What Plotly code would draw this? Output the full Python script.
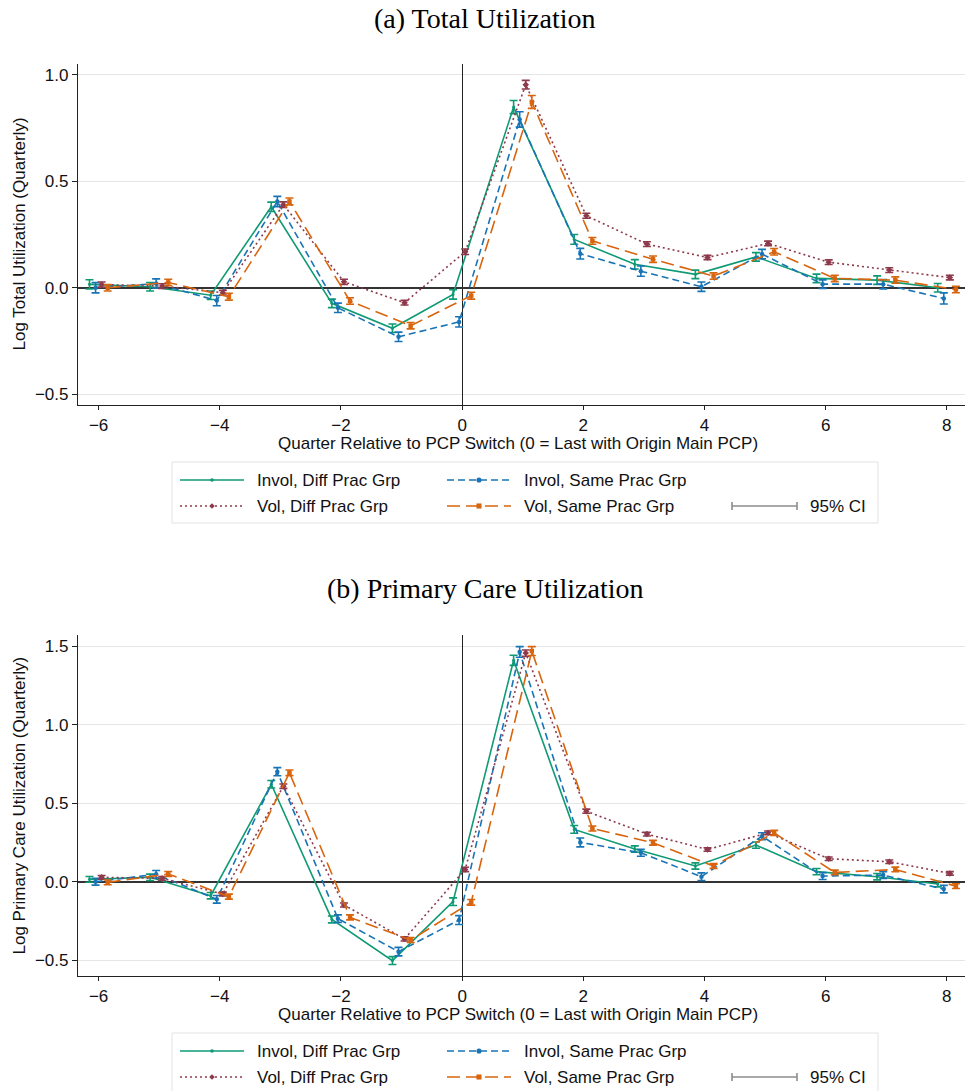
import plotly.graph_objects as go

W, H = 968, 1091

quarters = [-6, -5, -4, -3, -2, -1, 0, 1, 2, 3, 4, 5, 6, 7, 8]
series_names = ["Invol, Diff Prac Grp", "Invol, Same Prac Grp", "Vol, Diff Prac Grp", "Vol, Same Prac Grp"]

# Panel (a) Total utilization: point estimates
a_invol_diff = [0.016, 0.005, -0.035, 0.38, -0.073, -0.19, -0.031, 0.848, 0.227, 0.11, 0.063, 0.145, 0.044, 0.036, 0.0]
a_invol_same = [0.0, 0.02, -0.06, 0.405, -0.094, -0.23, -0.16, 0.79, 0.16, 0.078, 0.005, 0.158, 0.017, 0.017, -0.05]
a_vol_diff = [0.015, 0.008, -0.023, 0.39, 0.028, -0.07, 0.169, 0.953, 0.338, 0.205, 0.142, 0.208, 0.12, 0.083, 0.048]
a_vol_same = [0.0, 0.025, -0.042, 0.405, -0.062, -0.178, -0.037, 0.872, 0.22, 0.134, 0.055, 0.169, 0.044, 0.036, -0.008]
# Panel (a) 95% CI half-widths
a_ci_invol_diff = [0.022, 0.02, 0.02, 0.022, 0.02, 0.02, 0.022, 0.031, 0.023, 0.022, 0.02, 0.02, 0.02, 0.02, 0.02]
a_ci_invol_same = [0.024, 0.022, 0.024, 0.024, 0.022, 0.022, 0.024, 0.036, 0.025, 0.024, 0.022, 0.022, 0.02, 0.022, 0.026]
a_ci_vol_diff = [0.012, 0.011, 0.011, 0.013, 0.012, 0.011, 0.013, 0.02, 0.012, 0.011, 0.01, 0.011, 0.011, 0.011, 0.011]
a_ci_vol_same = [0.015, 0.015, 0.016, 0.016, 0.015, 0.015, 0.016, 0.03, 0.016, 0.015, 0.015, 0.015, 0.015, 0.015, 0.015]

# Panel (b) Primary care utilization: point estimates
b_invol_diff = [0.015, 0.028, -0.089, 0.62, -0.24, -0.502, -0.127, 1.409, 0.333, 0.208, 0.1, 0.233, 0.064, 0.032, -0.015]
b_invol_same = [0.0, 0.047, -0.112, 0.70, -0.235, -0.445, -0.244, 1.462, 0.25, 0.184, 0.032, 0.29, 0.036, 0.042, -0.047]
b_vol_diff = [0.028, 0.021, -0.078, 0.608, -0.148, -0.364, 0.078, 1.455, 0.449, 0.303, 0.205, 0.311, 0.146, 0.127, 0.053]
b_vol_same = [-0.004, 0.049, -0.095, 0.693, -0.227, -0.371, -0.131, 1.468, 0.339, 0.248, 0.1, 0.311, 0.059, 0.078, -0.028]
# Panel (b) 95% CI half-widths
b_ci_invol_diff = [0.018, 0.02, 0.02, 0.024, 0.022, 0.025, 0.024, 0.032, 0.025, 0.02, 0.02, 0.02, 0.02, 0.02, 0.018]
b_ci_invol_same = [0.022, 0.024, 0.024, 0.026, 0.024, 0.027, 0.028, 0.034, 0.028, 0.022, 0.024, 0.022, 0.022, 0.022, 0.024]
b_ci_vol_diff = [0.012, 0.012, 0.012, 0.014, 0.013, 0.013, 0.014, 0.02, 0.013, 0.012, 0.011, 0.012, 0.011, 0.011, 0.011]
b_ci_vol_same = [0.015, 0.016, 0.016, 0.018, 0.016, 0.016, 0.018, 0.028, 0.016, 0.015, 0.015, 0.016, 0.015, 0.015, 0.015]

x_ticks = [-6, -4, -2, 0, 2, 4, 6, 8]
a_yticks = [-0.5, 0.0, 0.5, 1.0]
b_yticks = [-0.5, 0.0, 0.5, 1.0, 1.5]

panel_titles = ["(a) Total Utilization", "(b) Primary Care Utilization"]
y_titles = ["Log Total Utilization (Quarterly)", "Log Primary Care Utilization (Quarterly)"]
x_title = "Quarter Relative to PCP Switch (0 = Last with Origin Main PCP)"

# Styles
colors = ["#0f9a74", "#1874b5", "#8e3a4c", "#d8650e"]
dashes = ["solid", "7px,4px", "2px,3px", "13px,6px"]
symbols = ["circle", "circle", "diamond", "square"]
msizes = [3, 4.5, 5, 4.5]
offsets = [-0.15, -0.05, 0.05, 0.15]

SANS = "Liberation Sans Narrow, Arial Narrow, Liberation Sans, Arial"
SERIF = "Liberation Serif, Times New Roman, serif"

def px(x):
    return x / W

def py(y):
    return 1 - y / H

fig = go.Figure()

panels = [
    ([a_invol_diff, a_invol_same, a_vol_diff, a_vol_same],
     [a_ci_invol_diff, a_ci_invol_same, a_ci_vol_diff, a_ci_vol_same], "x", "y"),
    ([b_invol_diff, b_invol_same, b_vol_diff, b_vol_same],
     [b_ci_invol_diff, b_ci_invol_same, b_ci_vol_diff, b_ci_vol_same], "x2", "y2"),
]

for vals_list, ci_list, xa, ya in panels:
    for i, (vals, ci) in enumerate(zip(vals_list, ci_list)):
        fig.add_trace(go.Scatter(
            x=[q + offsets[i] for q in quarters], y=vals,
            mode="lines+markers", name=series_names[i], showlegend=False,
            line=dict(color=colors[i], width=1.6, dash=dashes[i]),
            marker=dict(color=colors[i], symbol=symbols[i], size=msizes[i]),
            error_y=dict(type="data", array=ci, visible=True, color=colors[i],
                         thickness=1.6, width=4),
            xaxis=xa, yaxis=ya,
        ))

# Plot area pixel geometry
x_left, x_right = 78, 965
a_top, a_bot = 64, 405
b_top, b_bot = 635, 976

common_x = dict(range=[-6.34, 8.3], tickvals=x_ticks, ticks="outside", ticklen=4,
                tickcolor="#222", tickwidth=1, showline=True, linecolor="#222", linewidth=1.2,
                showgrid=False, zeroline=True, zerolinecolor="#222", zerolinewidth=1.3,
                tickfont=dict(family=SANS, size=17, color="#111"),
                domain=[px(x_left), px(x_right)])
common_y = dict(ticks="outside", ticklen=5, tickcolor="#222", tickwidth=1,
                showline=True, linecolor="#222", linewidth=1.2,
                showgrid=True, gridcolor="#e6e6e6", gridwidth=1.2,
                zeroline=True, zerolinecolor="#333", zerolinewidth=1.5,
                tickformat=".1f", tickfont=dict(family=SANS, size=17, color="#111"))

fig.update_layout(
    width=W, height=H, margin=dict(l=0, r=0, t=0, b=0),
    paper_bgcolor="white", plot_bgcolor="white", showlegend=False,
    xaxis=dict(common_x, anchor="y"),
    yaxis=dict(common_y, range=[-0.55, 1.05], tickvals=a_yticks, anchor="x",
               domain=[py(a_bot), py(a_top)]),
    xaxis2=dict(common_x, anchor="y2"),
    yaxis2=dict(common_y, range=[-0.6, 1.57], tickvals=b_yticks, anchor="x2",
                domain=[py(b_bot), py(b_top)]),
)

ann = []
shapes = []
# Panel titles
for t, yc in zip(panel_titles, [18, 588]):
    ann.append(dict(text=t, x=px(485), y=py(yc), xref="paper", yref="paper",
                    showarrow=False, xanchor="center", yanchor="middle",
                    font=dict(family=SERIF, size=28, color="#000")))
# Axis titles
for t, yc in zip(y_titles, [(a_top + a_bot) / 2, (b_top + b_bot) / 2]):
    ann.append(dict(text=t, x=px(19), y=py(yc), xref="paper", yref="paper",
                    showarrow=False, textangle=-90, xanchor="center", yanchor="middle",
                    font=dict(family=SANS, size=17, color="#111")))
for yc in [443, 1014]:
    ann.append(dict(text=x_title, x=px(518), y=py(yc), xref="paper", yref="paper",
                    showarrow=False, xanchor="center", yanchor="middle",
                    font=dict(family=SANS, size=17, color="#111")))

# Legends (drawn manually to reproduce 2-row layout)
legend_tops = [462, 1033]
ci_gray = "#8c8c8c"
for top in legend_tops:
    shapes.append(dict(type="rect", xref="paper", yref="paper",
                       x0=px(172), x1=px(878), y0=py(top), y1=py(top + 61),
                       line=dict(color="#e3e3e3", width=1), fillcolor="white", layer="below"))
    rows = [top + 18, top + 44]
    cols = [(180, 244, 255), (447, 511, 522)]
    layout_pos = [(0, 0), (0, 1), (1, 0), (1, 1)]
    for i, (r, c) in enumerate(layout_pos):
        yy = rows[r]
        x0, x1, xt = cols[c]
        shapes.append(dict(type="line", xref="paper", yref="paper",
                           x0=px(x0), x1=px(x1), y0=py(yy), y1=py(yy),
                           line=dict(color=colors[i], width=1.6, dash=dashes[i])))
        xm = (x0 + x1) / 2
        s = msizes[i] / 2 + 0.3
        if symbols[i] == "circle":
            shapes.append(dict(type="circle", xref="paper", yref="paper",
                               x0=px(xm - s), x1=px(xm + s), y0=py(yy - s), y1=py(yy + s),
                               line=dict(width=0), fillcolor=colors[i]))
        elif symbols[i] == "square":
            shapes.append(dict(type="rect", xref="paper", yref="paper",
                               x0=px(xm - s), x1=px(xm + s), y0=py(yy - s), y1=py(yy + s),
                               line=dict(width=0), fillcolor=colors[i]))
        else:
            path = "M {} {} L {} {} L {} {} L {} {} Z".format(
                px(xm - s), py(yy), px(xm), py(yy - s), px(xm + s), py(yy), px(xm), py(yy + s))
            shapes.append(dict(type="path", xref="paper", yref="paper", path=path,
                               line=dict(width=0), fillcolor=colors[i]))
        ann.append(dict(text=series_names[i], x=px(xt), y=py(yy), xref="paper", yref="paper",
                        showarrow=False, xanchor="left", yanchor="middle",
                        font=dict(family=SANS, size=17, color="#111")))
    # 95% CI sample
    yy = rows[1]
    shapes.append(dict(type="line", xref="paper", yref="paper",
                       x0=px(732), x1=px(797), y0=py(yy), y1=py(yy),
                       line=dict(color=ci_gray, width=1.6)))
    for xe in (732, 797):
        shapes.append(dict(type="line", xref="paper", yref="paper",
                           x0=px(xe), x1=px(xe), y0=py(yy - 4), y1=py(yy + 4),
                           line=dict(color=ci_gray, width=1.6)))
    ann.append(dict(text="95% CI", x=px(808), y=py(yy), xref="paper", yref="paper",
                    showarrow=False, xanchor="left", yanchor="middle",
                    font=dict(family=SANS, size=17, color="#111")))

fig.update_layout(annotations=ann, shapes=shapes)
fig.write_html("out.html")
